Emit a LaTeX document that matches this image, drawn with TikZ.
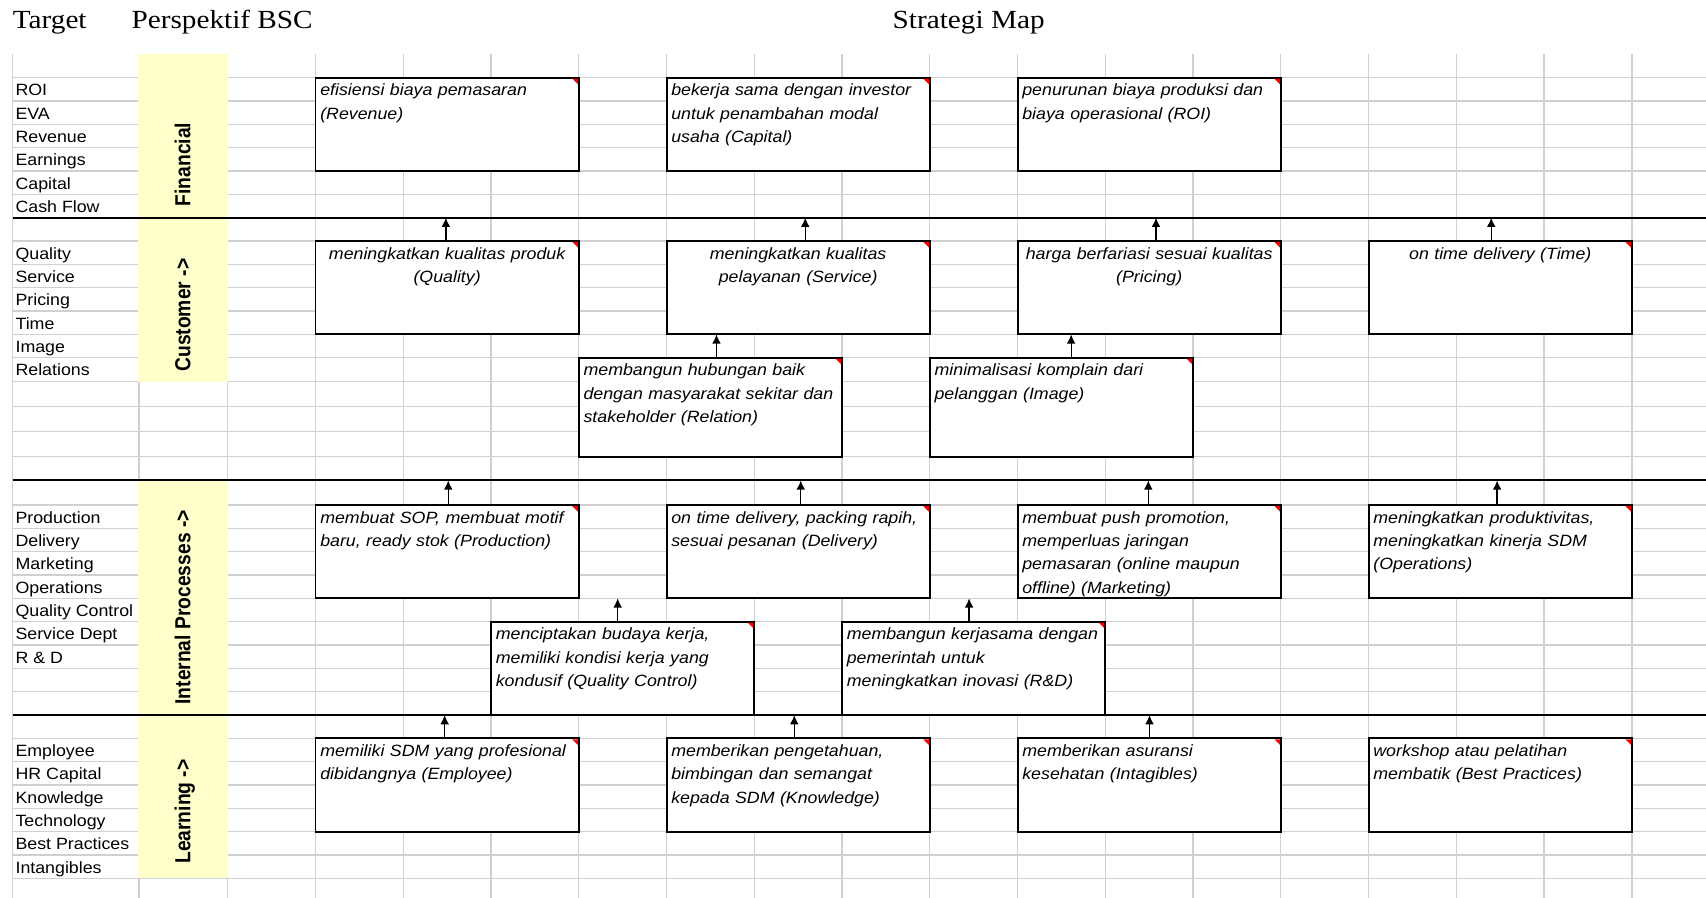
\documentclass[tikz,border=0pt]{standalone}
\usepackage{fontspec}
\setmainfont{Liberation Serif}
\newfontfamily\labfont[FakeStretch=1.09]{Liberation Sans}
\newfontfamily\vlabfont[FakeStretch=0.885]{Liberation Sans}
\newfontfamily\ttlfont[FakeStretch=1.12]{Liberation Serif}
\usetikzlibrary{arrows.meta}
\definecolor{gridgray}{HTML}{D0D0D0}
\definecolor{bandyellow}{HTML}{FFFFCC}
\definecolor{markred}{HTML}{FF0000}
\begin{document}
\begin{tikzpicture}[x=1pt,y=-1pt,
  gridline/.style={draw=gridgray, line width=1.2pt},
  sepline/.style={draw=black, line width=1.7pt},
  band/.style={fill=bandyellow, draw=none},
  box/.style={draw=black, fill=white, line width=1.8pt, rectangle, inner sep=0pt, outer sep=0pt, anchor=north west, minimum width=241.98pt, minimum height=85.8pt},
  tallbox/.style={minimum height=90.9pt},
  btxt/.style={font=\labfont\itshape\fontsize{15}{21.45}\selectfont, inner sep=0pt, text width=300pt, align=left, anchor=base west},
  ctxt/.style={font=\labfont\itshape\fontsize{15}{21.45}\selectfont, inner sep=0pt, text width=241.98pt, align=center, anchor=base},
  lab/.style={font=\labfont\fontsize{15}{18}\selectfont, inner sep=0pt, anchor=base west},
  vlab/.style={font=\vlabfont\bfseries\fontsize{20}{24}\selectfont, inner sep=0pt, anchor=base west, rotate=90},
  ttl/.style={font=\ttlfont\fontsize{24}{28}\selectfont, inner sep=0pt, anchor=base west},
  arr/.style={draw=black, line width=1.2pt, -{Latex[length=8.5pt,width=8pt]}},
  redmark/.style={fill=markred, draw=none}
]
\useasboundingbox (0,0) rectangle (1568,825);
\fill[white] (0,0) rectangle (1568,825);

% grid
\foreach \x in {11.6,127.7,209.3,289.96,370.62,451.28,531.94,612.6,693.26,773.92,854.58,935.24,1015.9,1096.56,1177.22,1257.88,1338.54,1419.2,1499.86}
  \draw[gridline] (\x,50) -- (\x,825);
\foreach \y in {71.45,92.9,114.35,135.8,157.25,178.7,200,221.5,243,264.4,285.8,307.2,328.8,350.8,373.8,396.8,419.7,441.5,464.2,485.6,507,528.5,549.9,571.4,592.8,614.2,635.7,657.2,678.6,700,721.5,742.9,764.4,785.8,807.3}
  \draw[gridline] (11.6,\y) -- (1568,\y);

% yellow perspective bands
\fill[band] (127.1,50) rectangle (209.9,200);
\fill[band] (127.1,200) rectangle (209.9,350.8);
\fill[band] (127.1,441.5) rectangle (209.9,657.2);
\fill[band] (127.1,657.2) rectangle (209.9,807.3);

% separators
\draw[sepline] (11.6,200) -- (1568,200);
\draw[sepline] (11.6,441.5) -- (1568,441.5);
\draw[sepline] (11.6,657.2) -- (1568,657.2);

% titles
\node[ttl] (tTarget) at (11.6,26) {Target};
\node[ttl] (tBSC) at (120.7,26) {Perspektif BSC};
\node[ttl] (tMap) at (820.3,26) {Strategi Map};

% target labels
\node[lab] (lROI) at (14.1,88.05) {ROI};
\node[lab] (lEVA) at (14.1,109.5) {EVA};
\node[lab] (lRev) at (14.1,130.95) {Revenue};
\node[lab] (lEarn) at (14.1,152.4) {Earnings};
\node[lab] (lCap) at (14.1,173.85) {Capital};
\node[lab] (lCash) at (14.1,195.3) {Cash Flow};
\node[lab] (lQual) at (14.1,238.1) {Quality};
\node[lab] (lServ) at (14.1,259.6) {Service};
\node[lab] (lPric) at (14.1,281) {Pricing};
\node[lab] (lTime) at (14.1,302.4) {Time};
\node[lab] (lImg) at (14.1,323.8) {Image};
\node[lab] (lRel) at (14.1,345.4) {Relations};
\node[lab] (lProd) at (14.1,480.8) {Production};
\node[lab] (lDel) at (14.1,502.2) {Delivery};
\node[lab] (lMkt) at (14.1,523.6) {Marketing};
\node[lab] (lOps) at (14.1,545.1) {Operations};
\node[lab] (lQC) at (14.1,566.5) {Quality Control};
\node[lab] (lSD) at (14.1,588) {Service Dept};
\node[lab] (lRD) at (14.1,609.4) {R \& D};
\node[lab] (lEmp) at (14.1,695.2) {Employee};
\node[lab] (lHR) at (14.1,716.6) {HR Capital};
\node[lab] (lKnow) at (14.1,738.1) {Knowledge};
\node[lab] (lTech) at (14.1,759.5) {Technology};
\node[lab] (lBP) at (14.1,781) {Best Practices};
\node[lab] (lInt) at (14.1,802.4) {Intangibles};

% perspective labels
\node[vlab] (pFin) at (175,189.8) {Financial};
\node[vlab] (pCus) at (175,341.7) {Customer ->};
\node[vlab] (pInt) at (175,647.7) {Internal Processes ->};
\node[vlab] (pLea) at (175,794) {Learning ->};

% boxes
\node[box] (F1) at (289.96,71.45) {};
\node[box] (F2) at (612.6,71.45) {};
\node[box] (F3) at (935.24,71.45) {};
\node[box] (C1) at (289.96,221.5) {};
\node[box] (C2) at (612.6,221.5) {};
\node[box] (C3) at (935.24,221.5) {};
\node[box] (C4) at (1257.88,221.5) {};
\node[box,tallbox] (C5) at (531.94,328.8) {};
\node[box,tallbox] (C6) at (854.58,328.8) {};
\node[box] (I1) at (289.96,464.2) {};
\node[box] (I2) at (612.6,464.2) {};
\node[box] (I3) at (935.24,464.2) {};
\node[box] (I4) at (1257.88,464.2) {};
\node[box] (I5) at (451.28,571.4) {};
\node[box] (I6) at (773.92,571.4) {};
\node[box] (L1) at (289.96,678.6) {};
\node[box] (L2) at (612.6,678.6) {};
\node[box] (L3) at (935.24,678.6) {};
\node[box] (L4) at (1257.88,678.6) {};

\foreach \b in {F1,F2,F3,C1,C2,C3,C4,C5,C6,I1,I2,I3,I4,I5,I6,L1,L2,L3,L4}
  \fill[redmark] ([shift={(-6pt,-0.9pt)}]\b.north east) -- ([shift={(-0.9pt,-0.9pt)}]\b.north east) -- ([shift={(-0.9pt,-6pt)}]\b.north east) -- cycle;

% box texts
\node[btxt] (F1t) at ([shift={(4.2pt,-16.6pt)}]F1.north west) {efisiensi biaya pemasaran\\(Revenue)};
\node[btxt] (F2t) at ([shift={(4.2pt,-16.6pt)}]F2.north west) {bekerja sama dengan investor\\untuk penambahan modal\\usaha (Capital)};
\node[btxt] (F3t) at ([shift={(4.2pt,-16.6pt)}]F3.north west) {penurunan biaya produksi dan\\biaya operasional (ROI)};
\node[ctxt] (C1t) at ([yshift=-16.6pt]C1.north) {meningkatkan kualitas produk\\(Quality)};
\node[ctxt] (C2t) at ([yshift=-16.6pt]C2.north) {meningkatkan kualitas\\pelayanan (Service)};
\node[ctxt] (C3t) at ([yshift=-16.6pt]C3.north) {harga berfariasi sesuai kualitas\\(Pricing)};
\node[ctxt] (C4t) at ([yshift=-16.6pt]C4.north) {on time delivery (Time)};
\node[btxt] (C5t) at ([shift={(4.2pt,-16.6pt)}]C5.north west) {membangun hubungan baik\\dengan masyarakat sekitar dan\\stakeholder (Relation)};
\node[btxt] (C6t) at ([shift={(4.2pt,-16.6pt)}]C6.north west) {minimalisasi komplain dari\\pelanggan (Image)};
\node[btxt] (I1t) at ([shift={(4.2pt,-16.6pt)}]I1.north west) {membuat SOP, membuat motif\\baru, ready stok (Production)};
\node[btxt] (I2t) at ([shift={(4.2pt,-16.6pt)}]I2.north west) {on time delivery, packing rapih,\\sesuai pesanan (Delivery)};
\node[btxt] (I3t) at ([shift={(4.2pt,-16.6pt)}]I3.north west) {membuat push promotion,\\memperluas jaringan\\pemasaran (online maupun\\offline) (Marketing)};
\node[btxt] (I4t) at ([shift={(4.2pt,-16.6pt)}]I4.north west) {meningkatkan produktivitas,\\meningkatkan kinerja SDM\\(Operations)};
\node[btxt] (I5t) at ([shift={(4.2pt,-16.6pt)}]I5.north west) {menciptakan budaya kerja,\\memiliki kondisi kerja yang\\kondusif (Quality Control)};
\node[btxt] (I6t) at ([shift={(4.2pt,-16.6pt)}]I6.north west) {membangun kerjasama dengan\\pemerintah untuk\\meningkatkan inovasi (R\&D)};
\node[btxt] (L1t) at ([shift={(4.2pt,-16.6pt)}]L1.north west) {memiliki SDM yang profesional\\dibidangnya (Employee)};
\node[btxt] (L2t) at ([shift={(4.2pt,-16.6pt)}]L2.north west) {memberikan pengetahuan,\\bimbingan dan semangat\\kepada SDM (Knowledge)};
\node[btxt] (L3t) at ([shift={(4.2pt,-16.6pt)}]L3.north west) {memberikan asuransi\\kesehatan (Intagibles)};
\node[btxt] (L4t) at ([shift={(4.2pt,-16.6pt)}]L4.north west) {workshop atau pelatihan\\membatik (Best Practices)};

% arrow end points
\coordinate (aC1) at (409.8,200);
\coordinate (aC2) at (740.1,200);
\coordinate (aC3) at (1062.5,200);
\coordinate (aC4) at (1370.6,200);
\coordinate (aC5) at (658.5,0);
\coordinate (aC6) at (984.5,0);
\coordinate (aI1) at (412,441.5);
\coordinate (aI2) at (736,441.5);
\coordinate (aI3) at (1055.4,441.5);
\coordinate (aI4) at (1376,441.5);
\coordinate (aI5) at (567.7,549.9);
\coordinate (aI6) at (890.7,549.9);
\coordinate (aL1) at (408.7,657.2);
\coordinate (aL2) at (730,657.2);
\coordinate (aL3) at (1056.5,657.2);

% arrows
\draw[arr] (aC1 |- C1.north) -- (aC1);
\draw[arr] (aC2 |- C2.north) -- (aC2);
\draw[arr] (aC3 |- C3.north) -- (aC3);
\draw[arr] (aC4 |- C4.north) -- (aC4);
\draw[arr] (aC5 |- C5.north) -- (aC5 |- C2.south);
\draw[arr] (aC6 |- C6.north) -- (aC6 |- C3.south);
\draw[arr] (aI1 |- I1.north) -- (aI1);
\draw[arr] (aI2 |- I2.north) -- (aI2);
\draw[arr] (aI3 |- I3.north) -- (aI3);
\draw[arr] (aI4 |- I4.north) -- (aI4);
\draw[arr] (aI5 |- I5.north) -- (aI5);
\draw[arr] (aI6 |- I6.north) -- (aI6);
\draw[arr] (aL1 |- L1.north) -- (aL1);
\draw[arr] (aL2 |- L2.north) -- (aL2);
\draw[arr] (aL3 |- L3.north) -- (aL3);
\end{tikzpicture}
\end{document}
